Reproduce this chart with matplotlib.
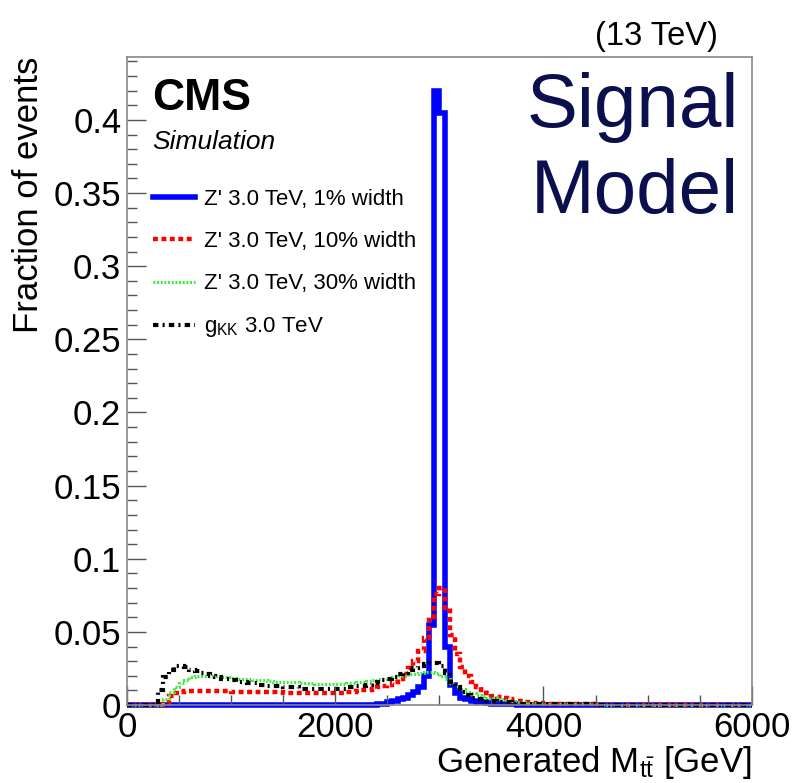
import numpy as np
import matplotlib
matplotlib.use('Agg')
import matplotlib.pyplot as plt
from matplotlib.lines import Line2D
from matplotlib.ticker import MultipleLocator, FormatStrFormatter

plt.rcParams['font.family'] = ['Liberation Sans', 'DejaVu Sans']
plt.rcParams['mathtext.fontset'] = 'custom'
plt.rcParams['mathtext.rm'] = 'Liberation Sans'
plt.rcParams['mathtext.it'] = 'Liberation Sans:italic'

# 50 GeV bins from 0 to 6000 GeV
bin_edges = np.linspace(0, 6000, 121)

zp_1pct = [
    0, 0, 0, 0, 0, 0, 0, 0, 0, 0,
    0, 0, 0, 0, 0, 0, 0, 0, 0, 0,
    0, 0, 0, 0, 0, 0, 0, 0, 0, 0,
    0, 0, 0, 0, 0, 0, 0, 0, 0, 0,
    0, 0, 0, 0, 0, 0, 0, 0, 0.0005, 0.0005,
    0.002, 0.003, 0.004, 0.005, 0.007, 0.009, 0.012, 0.020, 0.055, 0.420,
    0.405, 0.040, 0.014, 0.008, 0.005, 0.004, 0.003, 0.002, 0.002, 0.0015,
    0.001, 0.001, 0.001, 0.0005, 0.0005, 0, 0, 0, 0, 0,
    0, 0, 0, 0, 0, 0, 0, 0, 0, 0,
    0, 0, 0, 0, 0, 0, 0, 0, 0, 0,
    0, 0, 0, 0, 0, 0, 0, 0, 0, 0,
    0, 0, 0, 0, 0, 0, 0, 0, 0, 0,
]

zp_10pct = [
    0, 0, 0, 0, 0, 0, 0, 0.001, 0.006, 0.008,
    0.009, 0.0095, 0.0095, 0.0095, 0.0095, 0.0095, 0.0095, 0.0095, 0.0095, 0.0095,
    0.009, 0.009, 0.009, 0.009, 0.009, 0.009, 0.009, 0.009, 0.009, 0.009,
    0.0085, 0.0085, 0.0085, 0.0085, 0.0085, 0.0085, 0.0085, 0.0085, 0.0085, 0.0085,
    0.0085, 0.0085, 0.009, 0.009, 0.0095, 0.010, 0.0105, 0.011, 0.012, 0.013,
    0.014, 0.016, 0.018, 0.021, 0.025, 0.030, 0.037, 0.046, 0.060, 0.076,
    0.080, 0.066, 0.048, 0.035, 0.026, 0.020, 0.016, 0.012, 0.010, 0.008,
    0.0065, 0.0055, 0.0045, 0.004, 0.003, 0.0025, 0.002, 0.002, 0.0015, 0.0015,
    0.001, 0.001, 0.001, 0.001, 0.0005, 0.0005, 0.0005, 0.0005, 0.0005, 0.0005,
    0, 0, 0, 0, 0, 0, 0, 0, 0, 0,
    0, 0, 0, 0, 0, 0, 0, 0, 0, 0,
    0, 0, 0, 0, 0, 0, 0, 0, 0, 0,
]

zp_30pct = [
    0, 0, 0, 0, 0, 0, 0, 0.004, 0.009, 0.012,
    0.015, 0.017, 0.019, 0.0195, 0.020, 0.020, 0.020, 0.0195, 0.019, 0.019,
    0.0185, 0.018, 0.018, 0.0175, 0.017, 0.017, 0.017, 0.0165, 0.016, 0.016,
    0.016, 0.0155, 0.0155, 0.015, 0.015, 0.015, 0.0145, 0.0145, 0.0145, 0.0145,
    0.0145, 0.0145, 0.015, 0.015, 0.0155, 0.016, 0.0165, 0.017, 0.0175, 0.018,
    0.0185, 0.019, 0.0195, 0.020, 0.021, 0.0215, 0.022, 0.0225, 0.0225, 0.022,
    0.020, 0.018, 0.015, 0.013, 0.011, 0.009, 0.008, 0.007, 0.006, 0.005,
    0.0045, 0.004, 0.0035, 0.003, 0.0025, 0.002, 0.002, 0.0015, 0.0015, 0.001,
    0.001, 0.001, 0.001, 0.001, 0.001, 0.001, 0.0005, 0.0005, 0.0005, 0.0005,
    0.0005, 0, 0, 0, 0, 0, 0, 0, 0, 0,
    0, 0, 0, 0, 0, 0, 0, 0, 0, 0,
    0, 0, 0, 0, 0, 0, 0, 0, 0, 0,
]

gkk = [
    0, 0, 0, 0, 0, 0, 0.010, 0.019, 0.024, 0.027,
    0.027, 0.026, 0.024, 0.023, 0.022, 0.021, 0.020, 0.019, 0.018, 0.018,
    0.017, 0.016, 0.016, 0.015, 0.015, 0.014, 0.014, 0.013, 0.013, 0.013,
    0.012, 0.012, 0.012, 0.011, 0.011, 0.011, 0.011, 0.011, 0.011, 0.011,
    0.011, 0.011, 0.012, 0.012, 0.013, 0.013, 0.014, 0.015, 0.016, 0.017,
    0.018, 0.019, 0.021, 0.022, 0.024, 0.025, 0.027, 0.028, 0.029, 0.029,
    0.027, 0.022, 0.016, 0.012, 0.009, 0.007, 0.005, 0.004, 0.004, 0.003,
    0.003, 0.002, 0.002, 0.002, 0.001, 0.001, 0.001, 0.001, 0.001, 0.001,
    0.001, 0.0005, 0.0005, 0.0005, 0.0005, 0.0005, 0.0005, 0.0005, 0.0005, 0.0005,
    0, 0, 0, 0, 0, 0, 0, 0, 0, 0,
    0, 0, 0, 0, 0, 0, 0, 0, 0, 0,
    0, 0, 0, 0, 0, 0, 0, 0, 0, 0,
]

labels = ["Z' 3.0 TeV, 1% width", "Z' 3.0 TeV, 10% width",
          "Z' 3.0 TeV, 30% width", r"g$_{\mathrm{KK}}$ 3.0 TeV"]

styles = [
    dict(color='#0000ff', lw=4.0, linestyle='-'),
    dict(color='#ff0000', lw=3.2, linestyle=(0, (1.1, 0.8))),
    dict(color='#33ee33', lw=2.2, linestyle=(0, (0.6, 0.6))),
    dict(color='#000000', lw=3.0, linestyle=(0, (1.3, 1.0, 0.5, 1.0))),
]

fig = plt.figure(figsize=(7.98, 7.83), dpi=100)
ax = fig.add_axes([0.159, 0.0996, 0.783, 0.8275])

for vals, st in zip([zp_1pct, zp_10pct, zp_30pct, gkk], styles):
    ax.stairs(vals, bin_edges, baseline=0, clip_on=False, **st)

ax.set_xlim(0, 6000)
ax.set_ylim(0, 0.443)

ax.xaxis.set_major_locator(MultipleLocator(2000))
ax.xaxis.set_minor_locator(MultipleLocator(500))
ax.yaxis.set_major_locator(MultipleLocator(0.05))
ax.yaxis.set_minor_locator(MultipleLocator(0.01))
ax.yaxis.set_major_formatter(FormatStrFormatter('%g'))
ax.xaxis.set_major_formatter(FormatStrFormatter('%g'))
ax.tick_params(which='both', direction='in', labelsize=25, color='#555555')
ax.tick_params(which='major', length=14, width=1)
ax.tick_params(which='minor', length=7, width=1)
ax.tick_params(axis='x', pad=4)
ax.tick_params(axis='y', pad=4)
for s in ax.spines.values():
    s.set_color('#888888')
    s.set_linewidth(1.2)

ax.set_ylabel('Fraction of events', fontsize=25, loc='top', labelpad=6)
ax.set_xlabel(r'Generated M$_{\mathrm{t\bar{t}}}$ [GeV]', fontsize=25, loc='right', labelpad=0)

ax.text(0.04, 0.968, 'CMS', transform=ax.transAxes, fontsize=32, fontweight='bold',
        ha='left', va='top')
ax.text(0.04, 0.888, 'Simulation', transform=ax.transAxes, fontsize=19, style='italic',
        ha='left', va='top')
fig.text(0.9, 0.953, '(13 TeV)', fontsize=23.5, ha='right', va='center')

ax.text(0.98, 0.922, 'Signal', transform=ax.transAxes, fontsize=55, color='#0b0f4d',
        ha='right', va='center')
ax.text(0.98, 0.79, 'Model', transform=ax.transAxes, fontsize=55, color='#0b0f4d',
        ha='right', va='center')

handles = [Line2D([], [], **st) for st in styles]
ax.legend(handles, labels, loc='upper left', bbox_to_anchor=(0.027, 0.810),
          frameon=False, fontsize=16, handlelength=1.9, handletextpad=0.4,
          labelspacing=0.95, borderaxespad=0)

fig.savefig('out.png', dpi=100)
